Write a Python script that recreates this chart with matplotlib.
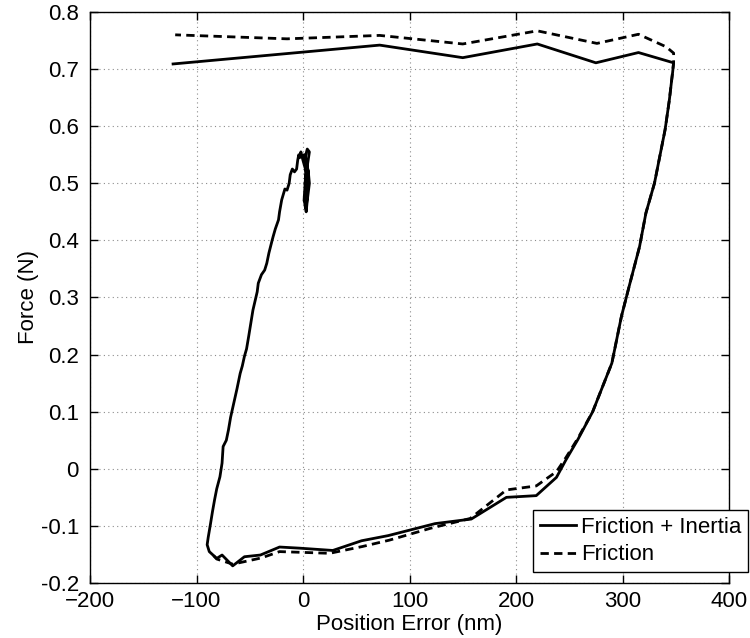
import numpy as np
import matplotlib
matplotlib.use('Agg')
import matplotlib.pyplot as plt

# Friction + Inertia (measured loop), position error in nm, force in N
fi_x = [2, 4, 6, 4, 2, 5, 6, 4, 3, 2, 4, 5, 3, 1, 3, 2, 1, 3, 4, 3, 0, -2,
        -3, -4, -5, -6, -8, -10, -12, -13, -15,
        -17, -20, -22, -23, -26, -28, -29, -32, -34, -36, -39, -42, -43, -47,
        -49, -51, -53, -55, -57, -59, -62, -65, -68, -70, -72, -75, -76, -78,
        -81, -83, -85, -87, -89, -90, -88, -81, -76, -66, -55, -40, -22, -3,
        28, 55, 80, 124, 158, 191, 219, 238, 247, 258, 272, 290, 299, 307,
        316, 322, 330, 335, 340, 344, 346, 347, 348, 315, 275, 220, 150, 72,
        -122]
fi_y = [0.50, 0.53, 0.555, 0.56, 0.545, 0.52, 0.50, 0.47, 0.45, 0.46, 0.49,
        0.52, 0.54, 0.55, 0.53, 0.50, 0.47, 0.455, 0.48, 0.52, 0.54, 0.555,
        0.545, 0.55, 0.54, 0.525, 0.52, 0.525, 0.515, 0.50, 0.488,
        0.49, 0.471, 0.45, 0.436, 0.42, 0.407, 0.40, 0.378, 0.36, 0.348,
        0.34, 0.325, 0.31, 0.278, 0.255, 0.232, 0.21, 0.197, 0.18, 0.167,
        0.14, 0.115, 0.09, 0.068, 0.05, 0.039, 0.01, -0.014, -0.035, -0.054,
        -0.075, -0.098, -0.12, -0.133, -0.145, -0.157, -0.151, -0.17, -0.154,
        -0.151, -0.137, -0.139, -0.143, -0.126, -0.117, -0.096, -0.088,
        -0.05, -0.047, -0.015, 0.016, 0.051, 0.1, 0.185, 0.267, 0.325,
        0.389, 0.448, 0.5, 0.547, 0.594, 0.646, 0.678, 0.693, 0.711, 0.729,
        0.711, 0.744, 0.72, 0.742, 0.709]

# Friction only (model)
f_x = [-84, -81, -66, -56, -39, -22, 25, 56, 81, 120, 157, 191, 219, 238, 247,
       258, 272, 290, 299, 307, 316, 322, 330, 335, 340, 344, 346, 348, 348,
       341, 315, 276, 220, 150, 72, -15, -120]
f_y = [-0.152, -0.158, -0.167, -0.163, -0.156, -0.145, -0.148, -0.136, -0.125,
       -0.104, -0.087, -0.037, -0.03, -0.005, 0.02, 0.053, 0.1, 0.185, 0.267,
       0.325, 0.389, 0.448, 0.5, 0.547, 0.594, 0.646, 0.678, 0.712, 0.728,
       0.739, 0.761, 0.745, 0.767, 0.744, 0.759, 0.753, 0.76]

x_ticks = [-200, -100, 0, 100, 200, 300, 400]
y_ticks = [-0.2, -0.1, 0, 0.1, 0.2, 0.3, 0.4, 0.5, 0.6, 0.7, 0.8]

plt.rcParams['font.family'] = ['Liberation Sans', 'DejaVu Sans']
plt.rcParams['font.size'] = 16

fig = plt.figure(figsize=(7.5, 6.38), dpi=100)
ax = fig.add_axes([0.12, 0.0862, 0.852, 0.895])

ax.plot(fi_x, fi_y, color='k', lw=2.0, label='Friction + Inertia')
ax.plot(f_x, f_y, color='k', lw=2.0, dashes=(3.0, 1.9), label='Friction')

ax.set_xlim(-200, 400)
ax.set_ylim(-0.2, 0.8)
ax.set_xticks(x_ticks)
ax.set_yticks(y_ticks)
ax.set_yticklabels(['%g' % v for v in y_ticks])
ax.grid(True, linestyle=(0, (1, 3)), color='0.55', lw=0.8)
ax.tick_params(direction='in', top=True, right=True, length=6, width=1)
ax.tick_params(axis='y', pad=8)
ax.tick_params(axis='x', pad=6)
for s in ax.spines.values():
    s.set_linewidth(1.0)

ax.set_xlabel('Position Error (nm)', labelpad=1)
ax.set_ylabel('Force (N)', labelpad=1)

leg = ax.legend(loc='lower right', bbox_to_anchor=(1.03, 0.019),
                borderaxespad=0, fancybox=False, edgecolor='k',
                framealpha=1, handlelength=1.6, handletextpad=0.25,
                labelspacing=0.3, borderpad=0.3)
leg.get_frame().set_linewidth(1.0)

fig.savefig('out.png', dpi=100)
